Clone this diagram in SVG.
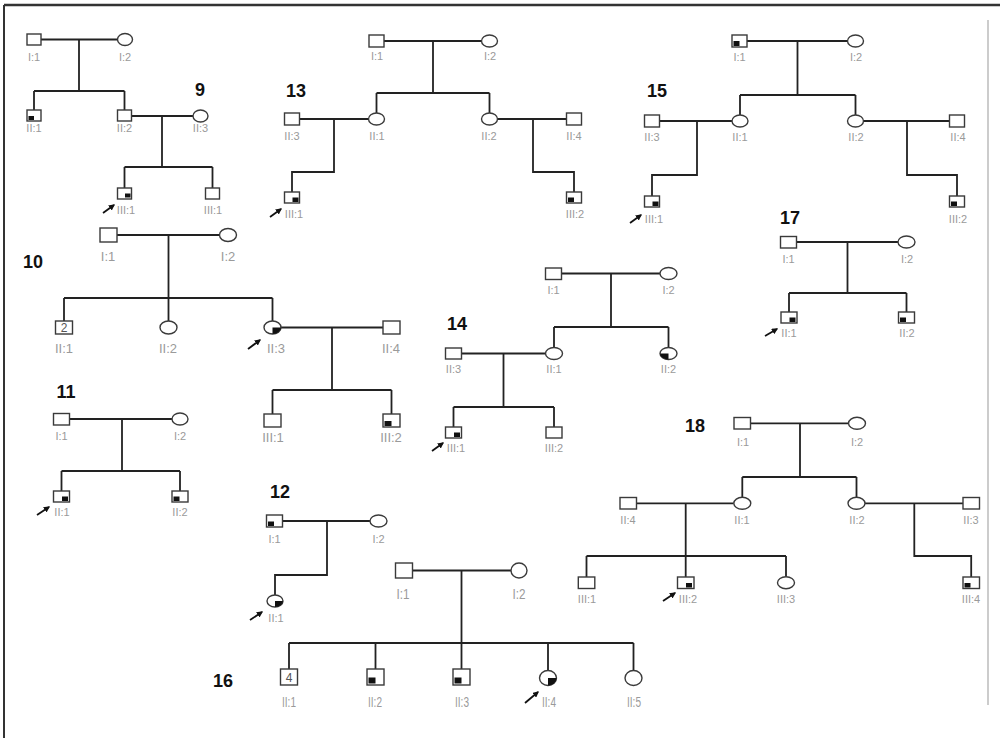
<svg xmlns="http://www.w3.org/2000/svg" width="1000" height="738" viewBox="0 0 1000 738">
<defs>
<style>
.ln{fill:none;stroke:#222;stroke-width:1.8}
.nd{fill:#fff;stroke:#3a3a3a;stroke-width:1.4}
.q{fill:#111;stroke:none}
.lb{fill:#9a9a9a;font-family:"Liberation Sans",Arial,sans-serif;font-size:11px;text-anchor:middle}
.lb2{fill:#9a9a9a;font-family:"Liberation Sans",Arial,sans-serif;font-size:13px;text-anchor:middle}
.lb3{fill:#9a9a9a;font-family:"Liberation Sans",Arial,sans-serif;font-size:15px;text-anchor:middle}
.fam{fill:#111;font-family:"Liberation Sans",Arial,sans-serif;font-size:18px;font-weight:bold;text-anchor:middle}
.num{fill:#555;font-family:"Liberation Sans",Arial,sans-serif;font-size:12px;text-anchor:middle}
.ar{fill:none;stroke:#111;stroke-width:1.8}
</style>
<marker id="ah" viewBox="0 0 10 10" refX="8" refY="5" markerWidth="3.5" markerHeight="3.5" orient="auto">
<path d="M0,0 L10,5 L0,10 Z" fill="#111"/>
</marker>
</defs>
<rect x="0" y="0" width="1000" height="738" fill="#fff"/>
<g id="frame">
<path d="M4,5 H1000" stroke="#333" stroke-width="2.5" fill="none"/>
<path d="M4,5 V738" stroke="#333" stroke-width="2" fill="none"/>
<path d="M988,20 V705" stroke="#bbb" stroke-width="1.5" fill="none"/>
</g>
<g id="connectors">
<!-- 9 -->
<path class="ln" d="M41,39.5 H117.5 M79,39.5 V91 M34,91 H124.5 M34,91 V110 M124.5,91 V110 M131.5,116 H193 M162,116 V167 M124.5,167 H212.5 M124.5,167 V188 M212.5,167 V188"/>
<!-- 13 -->
<path class="ln" d="M384,41 H481.5 M433,41 V93 M376.5,93 H489.5 M376.5,93 V113 M489.5,93 V113 M299.5,119 H368.5 M334,119 V172 H292 V192 M497.5,119 H566.5 M533,119 V172 H574 V192"/>
<!-- 15 -->
<path class="ln" d="M747,41 H847.5 M797.5,41 V95 M740,95 H855.5 M740,95 V115 M855.5,95 V115 M659.5,121 H732 M697,121 V175 H652 V196 M863.5,121 H949.5 M907,121 V175 H957 V196"/>
<!-- 17 -->
<path class="ln" d="M796.5,242 H898 M847.5,242 V293 M789,293 H906.5 M789,293 V312 M906.5,293 V312"/>
<!-- 10 -->
<path class="ln" d="M117,235 H219.5 M168.5,235 V321 M64,298 H272.5 M64,298 V321 M272.5,298 V321 M281,327.5 H383 M332,327.5 V390 M272.5,390 H391.5 M272.5,390 V414 M391.5,390 V414"/>
<!-- 11 -->
<path class="ln" d="M69.5,419 H172 M122,419 V471 M61.5,471 H180 M61.5,471 V491 M180,471 V491"/>
<!-- 12 -->
<path class="ln" d="M282.5,521 H370 M327,521 V575 H275 V595"/>
<!-- 16 -->
<path class="ln" d="M412.5,570.5 H511 M461.5,570.5 V669 M289,643 H633.5 M289,643 V669 M375.5,643 V669 M548,643 V670.5 M633.5,643 V670.5"/>
<!-- 14 -->
<path class="ln" d="M561.5,273.5 H660 M611,273.5 V327 M554,327 H668.5 M554,327 V347.5 M668.5,327 V347.5 M461.5,353.5 H545.5 M503.5,353.5 V407 M453.5,407 H554 M453.5,407 V427 M554,407 V427"/>
<!-- 18 -->
<path class="ln" d="M750.5,423.3 H848.5 M800,423.3 V477 M742.3,477 H856.5 M742.3,477 V497.3 M856.5,477 V497.3 M636.5,503.3 H733.8 M685.7,503.3 V577 M586.5,556 H786 M586.5,556 V577 M786,556 V576.7 M865,503.3 H963 M914.3,503.3 V556 H971.2 V577"/>
<!-- proband arrows -->
<path class="ar" marker-end="url(#ah)" d="M103,213 L114,205"/>
<path class="ar" marker-end="url(#ah)" d="M270,217 L281,209"/>
<path class="ar" marker-end="url(#ah)" d="M630,223 L641,215"/>
<path class="ar" marker-end="url(#ah)" d="M765,336 L777,329"/>
<path class="ar" marker-end="url(#ah)" d="M248,349 L260,340"/>
<path class="ar" marker-end="url(#ah)" d="M37,515 L49,507"/>
<path class="ar" marker-end="url(#ah)" d="M250,620 L262,612"/>
<path class="ar" marker-end="url(#ah)" d="M525,703 L538,692"/>
<path class="ar" marker-end="url(#ah)" d="M432,451 L443,443"/>
<path class="ar" marker-end="url(#ah)" d="M663,601 L675,593"/>
</g>
<g id="fam9">
<text class="fam" x="200" y="96">9</text>
<g id="f9-I1"><rect class="nd" x="27" y="34" width="14" height="11"/><text class="lb" x="34" y="61">I:1</text></g>
<g id="f9-I2"><ellipse class="nd" cx="125" cy="39.5" rx="7.5" ry="6"/><text class="lb" x="125" y="61">I:2</text></g>
<g id="f9-II1"><rect class="nd" x="27" y="110" width="14" height="11"/><rect class="q" x="28.5" y="116" width="5.5" height="4"/><text class="lb" x="34" y="132">II:1</text></g>
<g id="f9-II2"><rect class="nd" x="117.5" y="110" width="14" height="11"/><text class="lb" x="124.5" y="132">II:2</text></g>
<g id="f9-II3"><ellipse class="nd" cx="200.5" cy="116" rx="7.5" ry="6"/><text class="lb" x="200.5" y="132">II:3</text></g>
<g id="f9-III1"><rect class="nd" x="117.5" y="188" width="14" height="11"/><rect class="q" x="125" y="193.5" width="5.5" height="4"/><text class="lb" x="126" y="214">III:1</text></g>
<g id="f9-III1b"><rect class="nd" x="205.5" y="188" width="14" height="11"/><text class="lb" x="213" y="214">III:1</text></g>
</g>
<g id="fam13">
<text class="fam" x="296" y="97">13</text>
<g id="f13-I1"><rect class="nd" x="369" y="35" width="15" height="12"/><text class="lb" x="377" y="60">I:1</text></g>
<g id="f13-I2"><ellipse class="nd" cx="489.5" cy="41" rx="8" ry="6"/><text class="lb" x="490" y="60">I:2</text></g>
<g id="f13-II3"><rect class="nd" x="284.5" y="113" width="15" height="12"/><text class="lb" x="292" y="140">II:3</text></g>
<g id="f13-II1"><ellipse class="nd" cx="376.5" cy="119" rx="8" ry="6"/><text class="lb" x="377" y="140">II:1</text></g>
<g id="f13-II2"><ellipse class="nd" cx="489.5" cy="119" rx="8" ry="6"/><text class="lb" x="489" y="140">II:2</text></g>
<g id="f13-II4"><rect class="nd" x="566.5" y="113" width="15" height="12"/><text class="lb" x="574" y="140">II:4</text></g>
<g id="f13-III1"><rect class="nd" x="284.5" y="192" width="15" height="11"/><rect class="q" x="292.5" y="197.5" width="6" height="4.5"/><text class="lb" x="294" y="218">III:1</text></g>
<g id="f13-III2"><rect class="nd" x="566.5" y="192" width="15" height="11"/><rect class="q" x="568" y="197.5" width="6" height="4.5"/><text class="lb" x="575" y="218">III:2</text></g>
</g>
<g id="fam15">
<text class="fam" x="657" y="97">15</text>
<g id="f15-I1"><rect class="nd" x="732" y="35" width="15" height="12"/><rect class="q" x="733.5" y="41" width="6" height="5"/><text class="lb" x="739.5" y="61">I:1</text></g>
<g id="f15-I2"><ellipse class="nd" cx="855.5" cy="41" rx="8" ry="6"/><text class="lb" x="856" y="61">I:2</text></g>
<g id="f15-II3"><rect class="nd" x="644.5" y="115" width="15" height="12"/><text class="lb" x="652" y="141">II:3</text></g>
<g id="f15-II1"><ellipse class="nd" cx="740" cy="121" rx="8" ry="6"/><text class="lb" x="740" y="141">II:1</text></g>
<g id="f15-II2"><ellipse class="nd" cx="855.5" cy="121" rx="8" ry="6"/><text class="lb" x="856" y="141">II:2</text></g>
<g id="f15-II4"><rect class="nd" x="949.5" y="115" width="15" height="12"/><text class="lb" x="958" y="141">II:4</text></g>
<g id="f15-III1"><rect class="nd" x="644.5" y="196" width="15" height="11"/><rect class="q" x="652.5" y="201.5" width="6" height="4.5"/><text class="lb" x="654" y="223">III:1</text></g>
<g id="f15-III2"><rect class="nd" x="949.5" y="196" width="15" height="11"/><rect class="q" x="951" y="201.5" width="6" height="4.5"/><text class="lb" x="958" y="223">III:2</text></g>
</g>
<g id="fam17">
<text class="fam" x="790" y="224">17</text>
<g id="f17-I1"><rect class="nd" x="780.5" y="236.5" width="16" height="11.5"/><text class="lb" x="788.5" y="263">I:1</text></g>
<g id="f17-I2"><ellipse class="nd" cx="906.5" cy="242" rx="8.5" ry="6"/><text class="lb" x="907" y="263">I:2</text></g>
<g id="f17-II1"><rect class="nd" x="781" y="312" width="16" height="11"/><rect class="q" x="789.5" y="317.5" width="6" height="4.5"/><text class="lb" x="789" y="337">II:1</text></g>
<g id="f17-II2"><rect class="nd" x="898.5" y="312" width="16" height="11"/><rect class="q" x="900" y="317.5" width="6" height="4.5"/><text class="lb" x="907" y="337">II:2</text></g>
</g>
<g id="fam10">
<text class="fam" x="33" y="268">10</text>
<g id="f10-I1"><rect class="nd" x="100" y="228" width="17" height="14"/><text class="lb2" x="108" y="261">I:1</text></g>
<g id="f10-I2"><ellipse class="nd" cx="228" cy="235" rx="8.5" ry="6.5"/><text class="lb2" x="228" y="261">I:2</text></g>
<g id="f10-II1"><rect class="nd" x="55.5" y="321" width="17" height="13"/><text class="num" x="64" y="332">2</text><text class="lb2" x="64" y="353">II:1</text></g>
<g id="f10-II2"><ellipse class="nd" cx="168.5" cy="327.5" rx="8.5" ry="6.5"/><text class="lb2" x="168" y="353">II:2</text></g>
<g id="f10-II3"><ellipse class="nd" cx="272.5" cy="327.5" rx="8.5" ry="6.5"/><path class="q" d="M272.5,327.5 H281 A8.5,6.5 0 0 1 272.5,334 Z"/><text class="lb2" x="276" y="353">II:3</text></g>
<g id="f10-II4"><rect class="nd" x="383" y="321" width="17" height="13"/><text class="lb2" x="391" y="353">II:4</text></g>
<g id="f10-III1"><rect class="nd" x="264" y="414" width="17" height="13"/><text class="lb2" x="273" y="442">III:1</text></g>
<g id="f10-III2"><rect class="nd" x="383" y="414" width="17" height="13"/><rect class="q" x="384.5" y="421" width="7" height="5"/><text class="lb2" x="391" y="442">III:2</text></g>
</g>
<g id="fam11">
<text class="fam" x="66" y="398">11</text>
<g id="f11-I1"><rect class="nd" x="53.5" y="413.5" width="16" height="11.5"/><text class="lb" x="61.5" y="440">I:1</text></g>
<g id="f11-I2"><ellipse class="nd" cx="180" cy="419" rx="8" ry="6"/><text class="lb" x="180" y="440">I:2</text></g>
<g id="f11-II1"><rect class="nd" x="53.5" y="491" width="16" height="11"/><rect class="q" x="62" y="496.5" width="6" height="4.5"/><text class="lb" x="62" y="516">II:1</text></g>
<g id="f11-II2"><rect class="nd" x="172" y="491" width="16" height="11"/><rect class="q" x="173.5" y="496.5" width="6" height="4.5"/><text class="lb" x="180" y="516">II:2</text></g>
</g>
<g id="fam12">
<text class="fam" x="280" y="498">12</text>
<g id="f12-I1"><rect class="nd" x="266.5" y="515" width="16" height="12"/><rect class="q" x="268" y="521.5" width="6" height="4.5"/><text class="lb" x="274.5" y="543">I:1</text></g>
<g id="f12-I2"><ellipse class="nd" cx="378.5" cy="521" rx="8.5" ry="6"/><text class="lb" x="378.5" y="543">I:2</text></g>
<g id="f12-II1"><ellipse class="nd" cx="275" cy="601" rx="8" ry="6"/><path class="q" d="M275,601 H283 A8,6 0 0 1 275,607 Z"/><text class="lb" x="276" y="622">II:1</text></g>
</g>
<g id="fam16">
<text class="fam" x="223" y="687">16</text>
<g id="f16-I1"><rect class="nd" x="395.5" y="563" width="17" height="15"/><text class="lb3" x="403" y="599" textLength="13" lengthAdjust="spacingAndGlyphs">I:1</text></g>
<g id="f16-I2"><ellipse class="nd" cx="519" cy="570.5" rx="8" ry="7.5"/><text class="lb3" x="519" y="599" textLength="13" lengthAdjust="spacingAndGlyphs">I:2</text></g>
<g id="f16-II1"><rect class="nd" x="280.5" y="669" width="17" height="16"/><text class="num" x="289" y="682">4</text><text class="lb3" x="289" y="707" textLength="14" lengthAdjust="spacingAndGlyphs">II:1</text></g>
<g id="f16-II2"><rect class="nd" x="367" y="669" width="17" height="16"/><rect class="q" x="368.5" y="677.5" width="7" height="6"/><text class="lb3" x="375" y="707" textLength="14" lengthAdjust="spacingAndGlyphs">II:2</text></g>
<g id="f16-II3"><rect class="nd" x="453" y="669" width="17" height="16"/><rect class="q" x="454.5" y="677.5" width="7" height="6"/><text class="lb3" x="462" y="707" textLength="14" lengthAdjust="spacingAndGlyphs">II:3</text></g>
<g id="f16-II4"><ellipse class="nd" cx="548" cy="678" rx="8.5" ry="7.5"/><path class="q" d="M548,678 H556.5 A8.5,7.5 0 0 1 548,685.5 Z"/><text class="lb3" x="549" y="707" textLength="14" lengthAdjust="spacingAndGlyphs">II:4</text></g>
<g id="f16-II5"><ellipse class="nd" cx="633.5" cy="678" rx="8.5" ry="7.5"/><text class="lb3" x="634" y="707" textLength="14" lengthAdjust="spacingAndGlyphs">II:5</text></g>
</g>
<g id="fam14">
<text class="fam" x="457" y="330">14</text>
<g id="f14-I1"><rect class="nd" x="545.5" y="268" width="16" height="11.5"/><text class="lb" x="553.5" y="294">I:1</text></g>
<g id="f14-I2"><ellipse class="nd" cx="668.5" cy="273.5" rx="8.5" ry="6"/><text class="lb" x="668.5" y="294">I:2</text></g>
<g id="f14-II3"><rect class="nd" x="445.5" y="348" width="16" height="11"/><text class="lb" x="453.5" y="373">II:3</text></g>
<g id="f14-II1"><ellipse class="nd" cx="554" cy="353.5" rx="8.5" ry="6"/><text class="lb" x="554" y="373">II:1</text></g>
<g id="f14-II2"><ellipse class="nd" cx="668.5" cy="353.5" rx="8.5" ry="6"/><path class="q" d="M668.5,353.5 V359.5 A8.5,6 0 0 1 660,353.5 Z"/><text class="lb" x="668.5" y="373">II:2</text></g>
<g id="f14-III1"><rect class="nd" x="445.5" y="427" width="16" height="11"/><rect class="q" x="454" y="432.5" width="6" height="4.5"/><text class="lb" x="456" y="452">III:1</text></g>
<g id="f14-III2"><rect class="nd" x="546" y="427" width="16" height="11"/><text class="lb" x="554" y="452">III:2</text></g>
</g>
<g id="fam18">
<text class="fam" x="695" y="432">18</text>
<g id="f18-I1"><rect class="nd" x="734" y="417.5" width="16.5" height="11.5"/><text class="lb" x="743" y="446">I:1</text></g>
<g id="f18-I2"><ellipse class="nd" cx="857" cy="423.3" rx="8.5" ry="6"/><text class="lb" x="857" y="446">I:2</text></g>
<g id="f18-II4"><rect class="nd" x="620" y="497.5" width="16.5" height="11.5"/><text class="lb" x="628" y="524">II:4</text></g>
<g id="f18-II1"><ellipse class="nd" cx="742.3" cy="503.3" rx="8.5" ry="6"/><text class="lb" x="742" y="524">II:1</text></g>
<g id="f18-II2"><ellipse class="nd" cx="856.5" cy="503.3" rx="8.5" ry="6"/><text class="lb" x="857" y="524">II:2</text></g>
<g id="f18-II3"><rect class="nd" x="963" y="497.5" width="16.5" height="11.5"/><text class="lb" x="971" y="524">II:3</text></g>
<g id="f18-III1"><rect class="nd" x="578.3" y="577" width="16.5" height="11.5"/><text class="lb" x="587" y="603">III:1</text></g>
<g id="f18-III2"><rect class="nd" x="677.5" y="577" width="16.5" height="11.5"/><rect class="q" x="686" y="583" width="6" height="4.5"/><text class="lb" x="688" y="603">III:2</text></g>
<g id="f18-III3"><ellipse class="nd" cx="786" cy="582.7" rx="8.5" ry="6"/><text class="lb" x="786" y="603">III:3</text></g>
<g id="f18-III4"><rect class="nd" x="963" y="577" width="16.5" height="11.5"/><rect class="q" x="964.5" y="583" width="6" height="4.5"/><text class="lb" x="971" y="603">III:4</text></g>
</g>
</svg>
